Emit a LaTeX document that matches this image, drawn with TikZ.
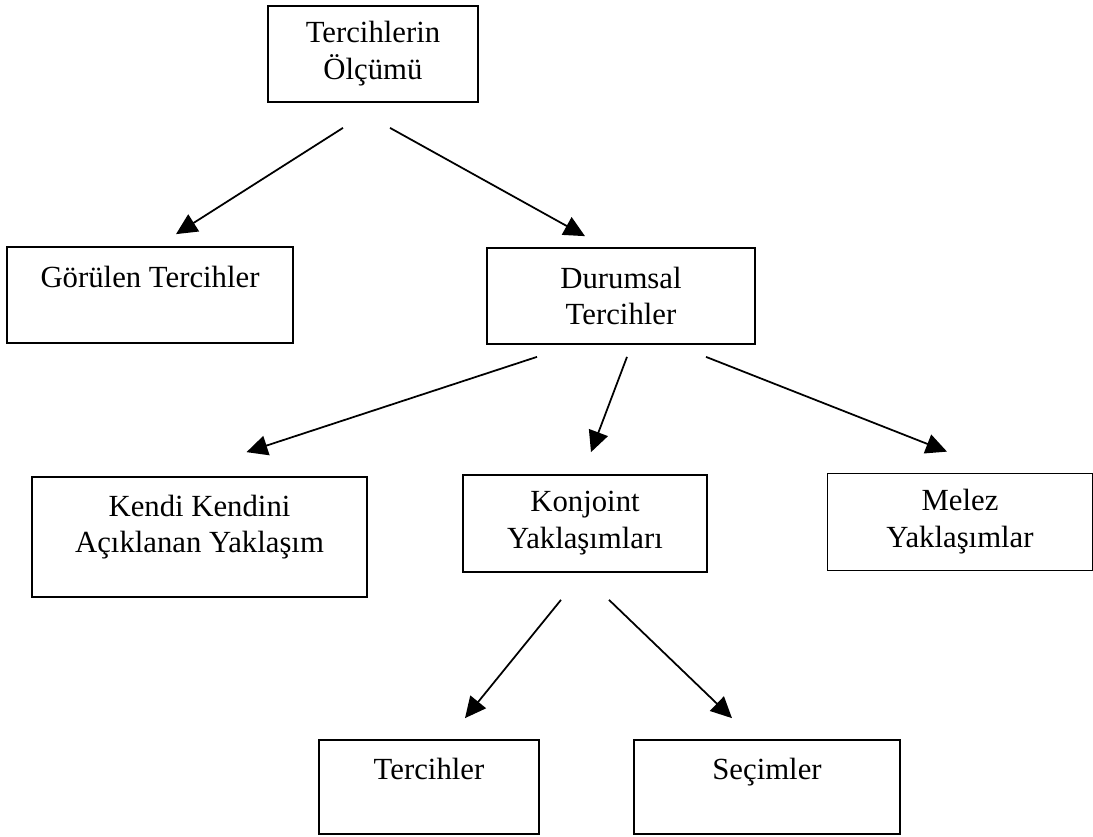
\documentclass[tikz,border=0pt]{standalone}
\usepackage{fontspec}
\setmainfont{Liberation Serif}
\usetikzlibrary{arrows.meta}

\begin{document}
\begin{tikzpicture}[x=0.02cm,y=-0.02cm]
            \tikzset{vertex/.style = {shape=rectangle,draw,line width=1pt,align=center,inner sep=0pt,font=\fontsize{17.5}{21}\selectfont}}
            \tikzset{edge/.style = {-{Triangle[length=0.42cm,width=0.4cm]},line width=1pt}}
            \useasboundingbox (0,0) rectangle (1093,836);
            \node[vertex,minimum width=4.2cm,minimum height=1.92cm] (a) at (373,54) {Tercihlerin\\Ölçümü};
            \node[vertex,minimum width=5.72cm,minimum height=1.92cm] (b) at (150,295) {Görülen Tercihler\\\mbox{}};
            \node[vertex,minimum width=5.36cm,minimum height=1.92cm] (c) at (621,296) {Durumsal\\Tercihler};
            \node[vertex,minimum width=6.7cm,minimum height=2.4cm,text depth=15pt] (d) at (199.5,537) {Kendi Kendini\\Açıklanan Yaklaşım};
            \node[vertex,minimum width=4.88cm,minimum height=1.94cm] (e) at (585,523.5) {Konjoint\\Yaklaşımları};
            \node[vertex,minimum width=5.3cm,minimum height=1.94cm] (f) at (960,522) {Melez\\Yaklaşımlar};
            \node[vertex,minimum width=4.4cm,minimum height=1.88cm] (g) at (429,787) {Tercihler\\\mbox{}};
            \node[vertex,minimum width=5.32cm,minimum height=1.88cm] (h) at (767,787) {Seçimler\\\mbox{}};

            \draw[edge] ([shift={(-30,25)}]a.south) to ([shift={(26,-12)}]b.north);
            \draw[edge] ([shift={(17,25)}]a.south) to ([shift={(-36,-11)}]c.north);
            \draw[edge] ([shift={(-84,12)}]c.south) to ([shift={(47,-24)}]d.north);
            \draw[edge] ([shift={(6,12)}]c.south) to ([shift={(6,-22)}]e.north);
            \draw[edge] ([shift={(85,12)}]c.south) to ([shift={(-13,-21)}]f.north);
            \draw[edge] ([shift={(-24,27)}]e.south) to ([shift={(36,-21)}]g.north);
            \draw[edge] ([shift={(24,27)}]e.south) to ([shift={(-35,-21)}]h.north);
        \end{tikzpicture}
\end{document}
